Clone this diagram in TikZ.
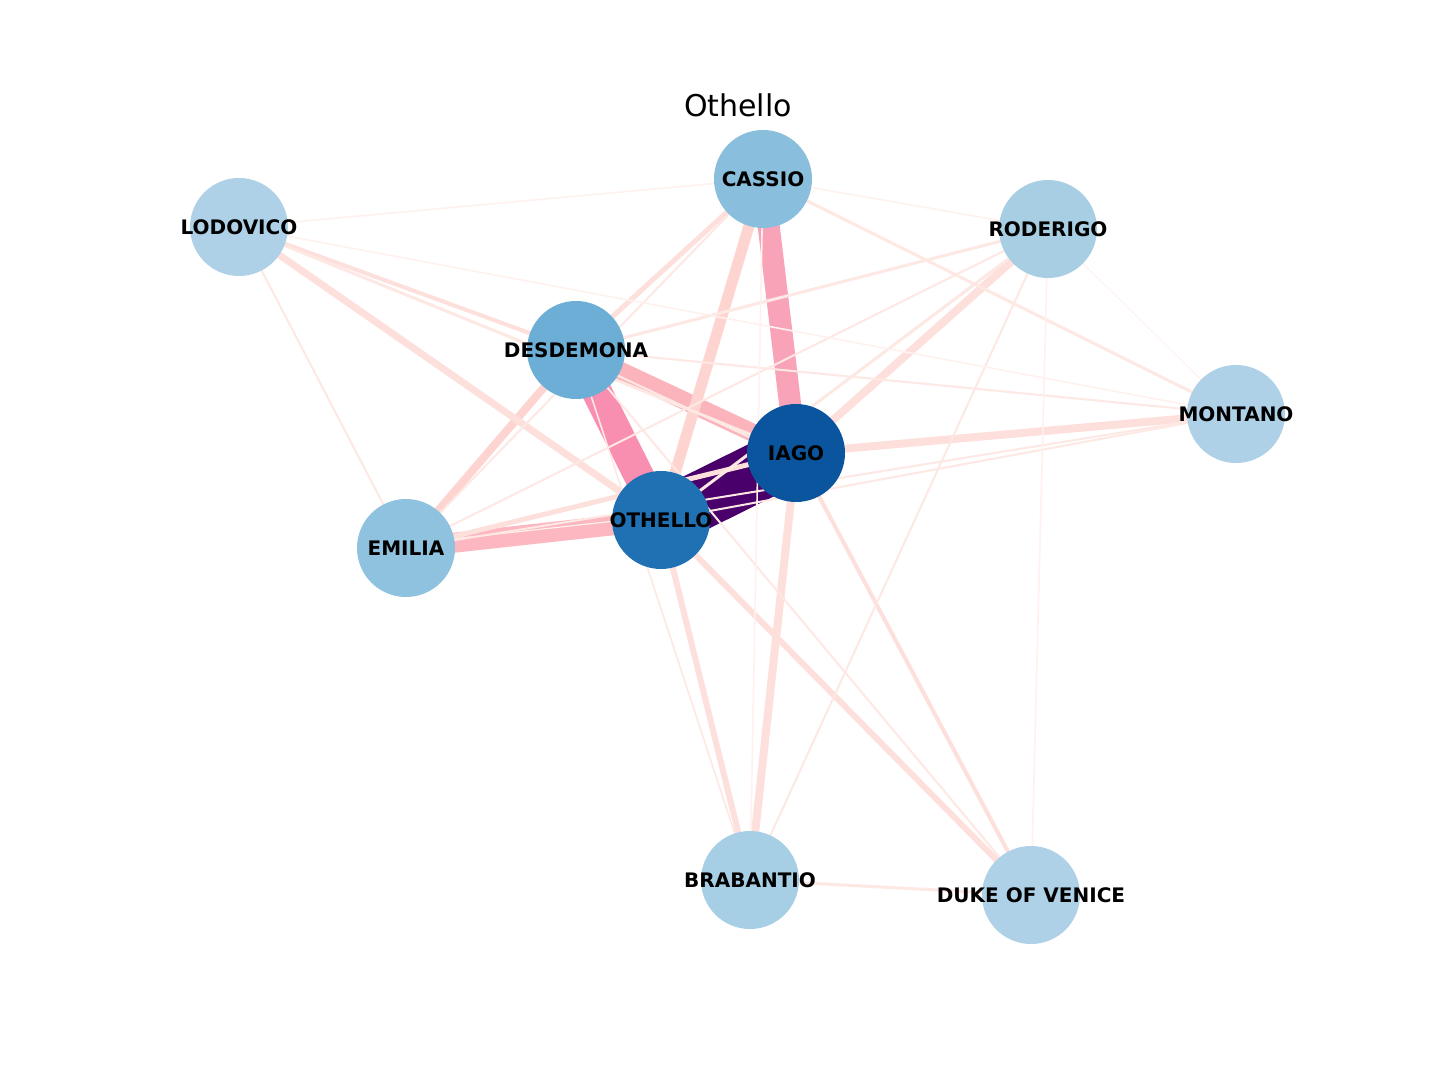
\documentclass[tikz,border=0pt]{standalone}
\usepackage{fontspec}
\setmainfont{DejaVu Sans}
\usetikzlibrary{backgrounds}
\definecolor{eA}{HTML}{49006A}
\definecolor{eB}{HTML}{F88EB0}
\definecolor{eC}{HTML}{F9A3B9}
\definecolor{eD}{HTML}{FBB3BC}
\definecolor{eE}{HTML}{FCB7C0}
\definecolor{eF}{HTML}{FDD4D0}
\definecolor{eG}{HTML}{FDE0DC}
\definecolor{eH}{HTML}{FEE8E4}
\definecolor{eI}{HTML}{FFF1EE}
\definecolor{nIago}{HTML}{0B559F}
\definecolor{nOth}{HTML}{2070B4}
\definecolor{nDes}{HTML}{6DAED6}
\definecolor{nCas}{HTML}{89BEDC}
\definecolor{nEmi}{HTML}{8FC2DE}
\definecolor{nRod}{HTML}{A8CEE4}
\definecolor{nBra}{HTML}{A6CEE4}
\definecolor{nLite}{HTML}{AFD1E7}
\tikzset{
  person/.style={circle, minimum size=49pt, inner sep=0pt, fill=#1},
  namefont/.style={font=\fontsize{10}{12}\selectfont\bfseries, text=black, inner sep=0pt},
  link/.style={line cap=butt},
}
\newcommand{\lk}[4]{\draw[link, line width=#3, color=#4] (#1.center) -- (#2.center);}
\begin{document}
\begin{tikzpicture}[x=0.5pt,y=-0.5pt]
\useasboundingbox (0,0) rectangle (1440,1080);
\node[font=\fontsize{15}{18}\selectfont] (title) at (738,105) {Othello};
\node[person=nCas, label={[namefont]center:CASSIO}] (cas) at (763,179) {};
\node[person=nLite, label={[namefont]center:LODOVICO}] (lod) at (239,227) {};
\node[person=nRod, label={[namefont]center:RODERIGO}] (rod) at (1048,229) {};
\node[person=nDes, label={[namefont]center:DESDEMONA}] (des) at (576,350) {};
\node[person=nLite, label={[namefont]center:MONTANO}] (mon) at (1236,414) {};
\node[person=nIago, label={[namefont]center:IAGO}] (iag) at (796,453) {};
\node[person=nOth, label={[namefont]center:OTHELLO}] (oth) at (661,520) {};
\node[person=nEmi, label={[namefont]center:EMILIA}] (emi) at (406,548) {};
\node[person=nBra, label={[namefont]center:BRABANTIO}] (bra) at (750,880) {};
\node[person=nLite, label={[namefont]center:DUKE OF VENICE}] (duk) at (1031,895) {};
\begin{pgfonlayer}{background}
\fill[white] (0,0) rectangle (1440,1080);
% heavy edges
\lk{iag}{oth}{29pt}{eA}
\lk{des}{oth}{15pt}{eB}
\lk{cas}{iag}{11pt}{eC}
\lk{des}{iag}{9pt}{eD}
\draw[link, line width=1pt, color=eH] ([yshift=-3pt]des.center) -- ([yshift=-3pt]iag.center);
\lk{emi}{oth}{10pt}{eE}
\draw[link, line width=0.6pt, color=eI] ([yshift=2pt]emi.center) -- ([yshift=2pt]oth.center);
% medium edges
\lk{cas}{oth}{5.5pt}{eF}
\lk{des}{emi}{4pt}{eF}
\lk{iag}{rod}{4pt}{eG}
\lk{iag}{mon}{4pt}{eG}
\lk{iag}{bra}{4pt}{eG}
\lk{oth}{lod}{3.5pt}{eG}
\lk{oth}{bra}{3pt}{eG}
\lk{oth}{duk}{3pt}{eG}
\lk{iag}{duk}{2pt}{eG}
\lk{emi}{iag}{2.5pt}{eG}
\lk{cas}{des}{2.5pt}{eG}
\lk{lod}{des}{2pt}{eG}
% light edges
\lk{cas}{emi}{1pt}{eH}
\lk{lod}{iag}{1.5pt}{eH}
\lk{cas}{mon}{1.5pt}{eH}
\lk{rod}{des}{1.5pt}{eH}
\lk{rod}{oth}{1.5pt}{eH}
\lk{rod}{emi}{1pt}{eH}
\lk{bra}{duk}{1.5pt}{eH}
\lk{rod}{bra}{1pt}{eH}
\lk{lod}{emi}{1pt}{eH}
\lk{des}{mon}{1pt}{eH}
\lk{oth}{mon}{1pt}{eH}
\lk{emi}{mon}{1pt}{eH}
\lk{des}{duk}{1pt}{eH}
\lk{des}{bra}{0.8pt}{eH}
% faint edges
\lk{cas}{rod}{0.8pt}{eI}
\lk{cas}{lod}{0.8pt}{eI}
\lk{lod}{mon}{0.8pt}{eI}
\lk{rod}{duk}{0.8pt}{eI}
\lk{cas}{bra}{0.8pt}{eI}
\lk{rod}{mon}{0.5pt}{eI}
\end{pgfonlayer}
\end{tikzpicture}
\end{document}
